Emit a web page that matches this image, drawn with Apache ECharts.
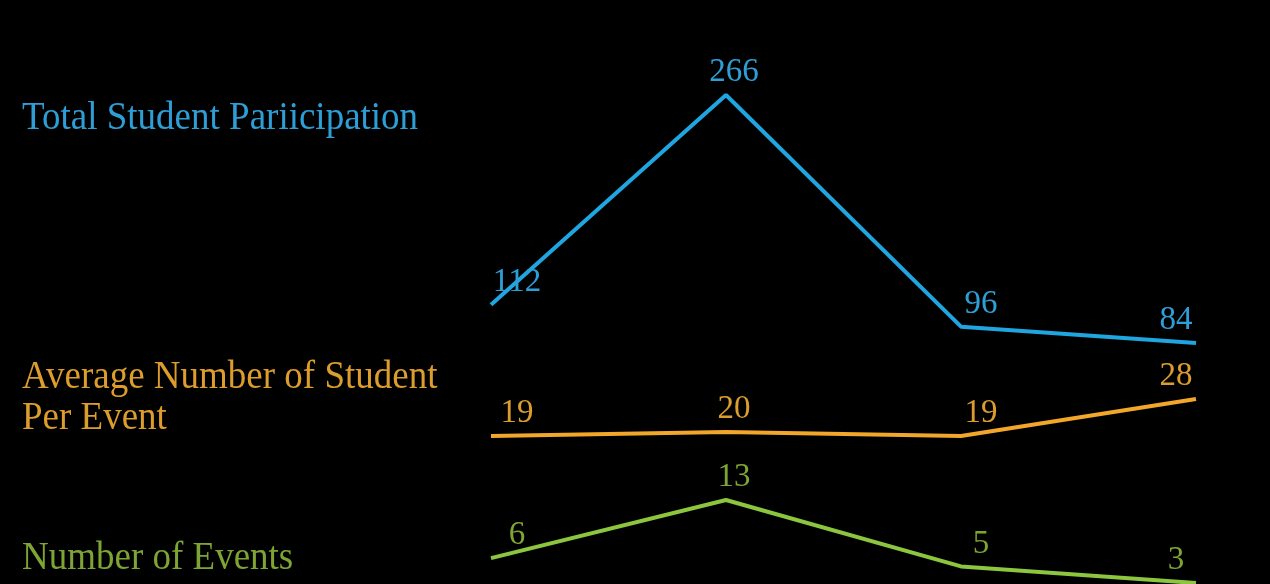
<!DOCTYPE html>
<html>
<head>
<meta charset="utf-8">
<script src="https://cdn.jsdelivr.net/npm/echarts@6/dist/echarts.min.js"></script>
<style>
html,body{margin:0;padding:0;background:#000;}
#chart{width:1270px;height:584px;}
</style>
</head>
<body>
<div id="chart"></div>
<script>
// ---- data ----
const periods = ['Period 1', 'Period 2', 'Period 3', 'Period 4'];
const participationName = 'Total Student Pariicipation';
const participation = [112, 266, 96, 84];
const averageName = 'Average Number of Student\nPer Event';
const averagePerEvent = [19, 20, 19, 28];
const eventsName = 'Number of Events';
const numberOfEvents = [6, 13, 5, 3];

// ---- style ----
const FONT = '"Liberation Serif", "Times New Roman", serif';
const blue = '#1fa6e0', blueText = '#2e9fd6';
const orange = '#f2a62a', orangeText = '#dc9d2c';
const green = '#8cc63e', greenText = '#7ea533';
const labelShiftX = [26, 8, 20, -20];

const chart = echarts.init(document.getElementById('chart'));

const grids = [
  {left: 491, right: 74, top: 95, height: 248},
  {left: 491, right: 74, top: 399, height: 37},
  {left: 491, right: 74, top: 500, height: 83}
];

function xAx(i){ return {type:'category', gridIndex:i, data:periods, boundaryGap:false, show:false}; }
function yAx(i, vals){ return {type:'value', gridIndex:i, min:Math.min(...vals), max:Math.max(...vals), show:false}; }

function series(i, name, vals, color, textColor){
  return {
    type:'line', name:name, xAxisIndex:i, yAxisIndex:i,
    data: vals.map((v, k) => ({value: v, label: {offset: [labelShiftX[k], 0]}})),
    symbol:'circle', symbolSize:0, showSymbol:true,
    lineStyle:{color:color, width:4}, itemStyle:{color:color},
    label:{show:true, position:'top', distance:6, color:textColor,
      fontFamily:FONT, fontSize:33},
    silent:true
  };
}

const labelStyle = (text, color, x, y) => ({
  type:'text', left:x, top:y, scaleY:1.1,
  style:{text:text, fill:color, font:'37px ' + FONT, lineHeight:38}
});

chart.setOption({
  backgroundColor:'#000',
  animation:false,
  grid:grids,
  xAxis:[xAx(0), xAx(1), xAx(2)],
  yAxis:[yAx(0, participation), yAx(1, averagePerEvent), yAx(2, numberOfEvents)],
  series:[
    series(0, participationName, participation, blue, blueText),
    series(1, averageName, averagePerEvent, orange, orangeText),
    series(2, eventsName, numberOfEvents, green, greenText)
  ],
  graphic:[
    labelStyle(participationName, blueText, 22, 97),
    labelStyle(averageName, orangeText, 22, 356),
    labelStyle(eventsName, greenText, 22, 537)
  ]
});
</script>
</body>
</html>
